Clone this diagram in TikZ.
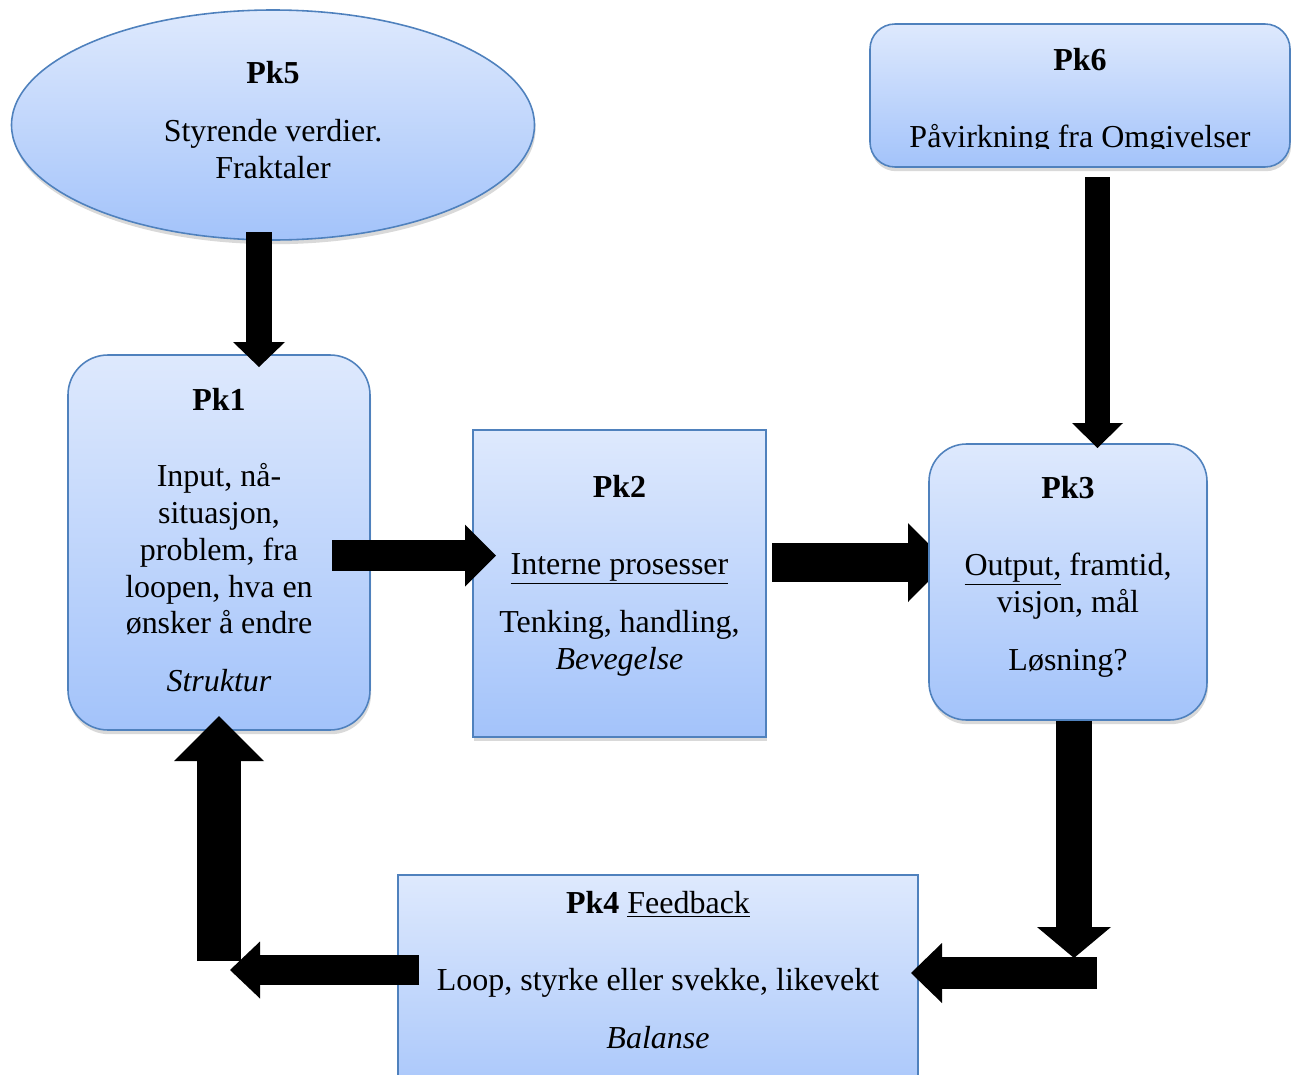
\documentclass[tikz,border=0pt]{standalone}
\usepackage{fontspec}
\setmainfont{Liberation Serif}
\usetikzlibrary{positioning,shapes.geometric,shadows,arrows.meta}

\definecolor{boxtop}{RGB}{222,233,253}
\definecolor{boxbot}{RGB}{163,195,250}
\definecolor{boxline}{RGB}{79,129,189}

\pgfdeclarelayer{back}
\pgfsetlayers{back,main}

\tikzset{
  pkbox/.style={draw=boxline, line width=0.9pt, top color=boxtop, bottom color=boxbot,
    inner sep=0pt, drop shadow={shadow xshift=0.6pt, shadow yshift=-2.4pt, opacity=0.3}},
  pktext/.style={inner sep=0pt, align=center, font=\fontsize{18.2}{21}\selectfont},
  fatarrow/.style n args={3}{line width=#1, -{Triangle[width=#2, length=#3, line width=0pt]}}
}

\begin{document}
\begin{tikzpicture}
  \useasboundingbox (0,0) rectangle (25.82,-21.5);
  \clip (0,0) rectangle (25.82,-21.5);

  % boxes
  \node[pkbox, ellipse, minimum width=10.46cm, minimum height=4.6cm] (pk5) at (5.46,-2.50) {};
  \node[pkbox, rounded corners=0.5cm, minimum width=8.4cm, minimum height=2.86cm] (pk6) at (21.6,-1.91) {};
  \node[pkbox, rounded corners=0.8cm, minimum width=6.04cm, minimum height=7.5cm] (pk1) at (4.38,-10.85) {};
  \node[pkbox, minimum width=5.86cm, minimum height=6.14cm] (pk2) at (12.39,-11.67) {};
  \node[pkbox, rounded corners=0.75cm, minimum width=5.56cm, minimum height=5.52cm] (pk3) at (21.36,-11.64) {};
  \node[pkbox, minimum width=10.4cm, minimum height=4.9cm] (pk4) at (13.16,-19.95) {};

  % texts
  \node[pktext, below=1.04cm of pk5.north] (pk5t) {\textbf{Pk5}\\[12pt] Styrende verdier.\\ Fraktaler};
  \begin{scope}
    \clip (17.3,-0.4) rectangle (25.82,-2.96);
    \node[pktext, below=0.5cm of pk6.north] (pk6t) {\textbf{Pk6}\\[22.5pt] Påvirkning fra Omgivelser};
  \end{scope}
  \node[pktext, below=0.68cm of pk1.north] (pk1t) {\textbf{Pk1}\\[22pt] Input, nå-\\ situasjon,\\ problem, fra\\ loopen, hva en\\ ønsker å endre\\[12pt] \textit{Struktur}};
  \node[pktext, below=0.92cm of pk2.north] (pk2t) {\textbf{Pk2}\\[22.5pt] \underline{Interne prosesser}\\[12pt] Tenking, handling,\\ \textit{Bevegelse}};
  \node[pktext, below=0.66cm of pk3.north] (pk3t) {\textbf{Pk3}\\[22.5pt] \underline{Output,} framtid,\\ visjon, mål\\[12pt] Løsning?};
  \node[pktext, below=0.34cm of pk4.north] (pk4t) {\textbf{Pk4} \underline{Feedback}\\[22.5pt] Loop, styrke eller svekke, likevekt\\[12pt] \textit{Balanse}};

  % arrow ends
  \coordinate (a51) at (5.18,-4.64);
  \coordinate (a52) at (5.18,-7.34);
  \coordinate (a61) at (21.95,-3.54);
  \coordinate (a62) at (21.95,-8.96);
  \coordinate (a11) at (6.64,-11.11);
  \coordinate (a12) at (9.92,-11.11);
  \coordinate (a21) at (15.44,-11.25);
  \coordinate (a22) at (18.94,-11.25);
  \coordinate (a31) at (21.48,-14.42);
  \coordinate (a32) at (21.48,-19.16);
  \coordinate (a33) at (21.94,-19.46);
  \coordinate (a34) at (18.22,-19.46);
  \coordinate (a41) at (8.38,-19.40);
  \coordinate (a42) at (4.60,-19.40);
  \coordinate (a43) at (4.38,-19.22);
  \coordinate (a44) at (4.38,-14.32);

  % arrows
  \draw[fatarrow={0.52cm}{1.04cm}{0.5cm}] (a51) -- (a52);
  \draw[fatarrow={0.5cm}{1.02cm}{0.5cm}] (a61) -- (a62);
  \draw[fatarrow={0.62cm}{1.24cm}{0.62cm}] (a11) -- (a12);
  \begin{pgfonlayer}{back}
    \draw[fatarrow={0.78cm}{1.58cm}{0.78cm}] (a21) -- (a22);
  \end{pgfonlayer}
  \draw[fatarrow={0.72cm}{1.48cm}{0.62cm}] (a31) -- (a32);
  \draw[fatarrow={0.64cm}{1.2cm}{0.62cm}] (a33) -- (a34);
  \draw[fatarrow={0.88cm}{1.8cm}{0.9cm}] (a43) -- (a44);
  \draw[fatarrow={0.6cm}{1.14cm}{0.6cm}] (a41) -- (a42);
\end{tikzpicture}
\end{document}
